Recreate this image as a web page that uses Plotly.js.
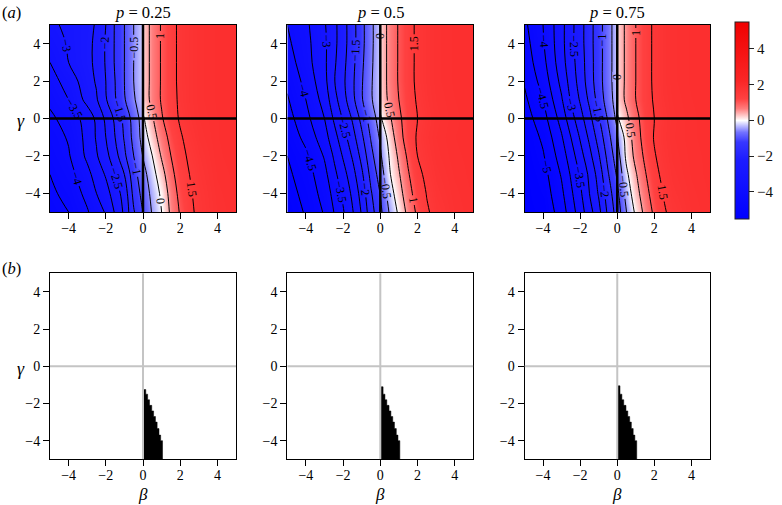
<!DOCTYPE html>
<html>
<head>
<meta charset="utf-8">
<script src="https://cdn.plot.ly/plotly-3.0.1.min.js"></script>
<style>
html,body{margin:0;padding:0;background:#fff;}
#chart{width:782px;height:505px;}
</style>
</head>
<body>
<div id="chart"></div>
<script>
// ---- data ----
const betaGrid  = [-5,-4,-3,-2.5,-2,-1.5,-1,-0.5,-0.02,0.02,0.5,1,1.5,2,2.5,3,4,5];
const gammaGrid = [-5,-4,-3,-2,-1,0,1,2,3,4,5];
const panelTitles = ['0.25','0.5','0.75'];
const axisTicks = [-4,-2,0,2,4];
const colorbarTicks = [-4,-2,0,2,4];

// p = 0.25, rows gamma = -5 ... 5
const zP25 = [
 [-4.7,-4.5,-4.05,-3.75,-3.45,-2.95,-2.4,-1.55,-1.02,-1.0,-0.45,0.0,0.6,1.05,1.4,1.6,1.78,1.85],
 [-4.6,-4.35,-3.85,-3.5,-3.2,-2.75,-2.3,-1.35,-0.85,-0.83,-0.35,0.1,0.7,1.15,1.45,1.62,1.8,1.86],
 [-4.5,-4.2,-3.65,-3.3,-2.95,-2.5,-2.0,-1.2,-0.7,-0.68,-0.2,0.3,0.85,1.25,1.5,1.66,1.82,1.87],
 [-4.35,-4.05,-3.4,-3.05,-2.65,-2.2,-1.6,-1.0,-0.5,-0.45,0.0,0.55,1.0,1.35,1.58,1.7,1.84,1.88],
 [-4.25,-3.95,-3.35,-2.95,-2.5,-2.0,-1.45,-0.85,-0.35,-0.25,0.25,0.75,1.15,1.45,1.65,1.75,1.85,1.88],
 [-4.1,-3.8,-3.3,-2.9,-2.4,-1.9,-1.35,-0.8,-0.3,-0.05,0.45,0.95,1.3,1.55,1.7,1.78,1.85,1.88],
 [-3.9,-3.5,-2.85,-2.55,-2.05,-1.55,-1.05,-0.55,-0.25,0.2,0.65,1.05,1.3,1.6,1.72,1.8,1.86,1.88],
 [-3.7,-3.3,-2.7,-2.45,-2.0,-1.5,-1.0,-0.5,-0.2,0.2,0.65,1.05,1.32,1.62,1.72,1.8,1.86,1.88],
 [-3.5,-3.0,-2.6,-2.42,-1.95,-1.45,-1.0,-0.5,-0.2,0.2,0.65,1.05,1.32,1.62,1.72,1.8,1.86,1.88],
 [-3.3,-2.95,-2.6,-2.42,-1.95,-1.45,-1.0,-0.5,-0.2,0.2,0.65,1.05,1.32,1.62,1.72,1.8,1.86,1.88],
 [-3.1,-2.9,-2.65,-2.45,-2.0,-1.45,-1.0,-0.5,-0.2,0.2,0.65,1.05,1.32,1.62,1.72,1.8,1.86,1.88]
];
// p = 0.5
const zP50 = [
 [-5.3,-4.95,-4.45,-4.0,-3.55,-3.05,-2.45,-1.7,-1.15,-1.1,-0.45,0.1,0.65,1.1,1.45,1.62,1.78,1.85],
 [-5.2,-4.85,-4.3,-3.85,-3.4,-2.9,-2.3,-1.55,-1.0,-0.95,-0.25,0.3,0.8,1.25,1.52,1.68,1.8,1.86],
 [-5.1,-4.75,-4.15,-3.65,-3.2,-2.7,-2.1,-1.35,-0.8,-0.75,-0.05,0.45,0.95,1.38,1.6,1.72,1.82,1.87],
 [-5.0,-4.6,-3.95,-3.45,-2.95,-2.45,-1.85,-1.15,-0.6,-0.55,0.05,0.6,1.1,1.5,1.66,1.76,1.84,1.87],
 [-4.85,-4.35,-3.7,-3.2,-2.7,-2.2,-1.6,-0.95,-0.45,-0.4,0.2,0.8,1.25,1.55,1.7,1.78,1.85,1.88],
 [-4.7,-4.15,-3.5,-2.95,-2.45,-1.95,-1.35,-0.75,-0.3,-0.05,0.42,0.9,1.25,1.5,1.66,1.76,1.84,1.88],
 [-4.55,-4.0,-3.3,-2.7,-2.2,-1.65,-1.05,-0.55,-0.22,0.2,0.6,1.0,1.3,1.55,1.7,1.78,1.85,1.88],
 [-4.4,-3.85,-3.15,-2.55,-2.1,-1.6,-1.05,-0.55,-0.2,0.2,0.65,1.05,1.32,1.6,1.72,1.8,1.86,1.88],
 [-4.25,-3.7,-3.1,-2.6,-2.15,-1.65,-1.1,-0.58,-0.2,0.2,0.65,1.05,1.32,1.6,1.72,1.8,1.86,1.88],
 [-4.1,-3.65,-3.1,-2.65,-2.2,-1.7,-1.15,-0.6,-0.2,0.2,0.65,1.05,1.32,1.6,1.72,1.8,1.86,1.88],
 [-4.0,-3.6,-3.05,-2.65,-2.2,-1.7,-1.15,-0.6,-0.2,0.2,0.65,1.05,1.32,1.6,1.72,1.8,1.86,1.88]
];
// p = 0.75
const zP75 = [
 [-5.5,-5.4,-4.75,-4.25,-3.75,-3.2,-2.65,-1.9,-1.3,-1.25,-0.5,0.1,0.65,1.1,1.45,1.62,1.78,1.85],
 [-5.5,-5.3,-4.6,-4.1,-3.6,-3.0,-2.45,-1.75,-1.15,-1.1,-0.3,0.3,0.8,1.25,1.52,1.68,1.8,1.86],
 [-5.5,-5.2,-4.45,-3.95,-3.45,-2.9,-2.3,-1.55,-0.95,-0.9,-0.1,0.45,0.95,1.38,1.6,1.72,1.82,1.87],
 [-5.45,-5.05,-4.25,-3.75,-3.2,-2.65,-2.05,-1.35,-0.75,-0.7,0.12,0.65,1.1,1.47,1.65,1.75,1.83,1.87],
 [-5.4,-4.9,-4.05,-3.5,-2.95,-2.4,-1.8,-1.15,-0.6,-0.5,0.2,0.75,1.22,1.53,1.68,1.77,1.84,1.88],
 [-5.25,-4.7,-3.8,-3.2,-2.7,-2.15,-1.55,-0.95,-0.4,-0.05,0.4,0.85,1.25,1.5,1.66,1.76,1.84,1.88],
 [-5.1,-4.5,-3.55,-2.95,-2.45,-1.9,-1.3,-0.75,-0.28,0.2,0.6,1.0,1.3,1.55,1.7,1.78,1.85,1.88],
 [-4.95,-4.3,-3.35,-2.8,-2.3,-1.75,-1.2,-0.7,-0.25,0.2,0.6,1.0,1.3,1.58,1.72,1.8,1.86,1.88],
 [-4.8,-4.15,-3.2,-2.7,-2.25,-1.72,-1.2,-0.7,-0.25,0.2,0.6,1.0,1.3,1.58,1.72,1.8,1.86,1.88],
 [-4.7,-4.05,-3.15,-2.65,-2.2,-1.7,-1.2,-0.7,-0.25,0.2,0.6,1.0,1.3,1.58,1.72,1.8,1.86,1.88],
 [-4.6,-4.0,-3.15,-2.65,-2.2,-1.7,-1.2,-0.7,-0.25,0.2,0.6,1.0,1.3,1.58,1.72,1.8,1.86,1.88]
];

// bottom row: black region (staircase boundary)
const regionGamma = [-1.25,-1.5,-1.8,-2.1,-2.4,-2.7,-3.0,-3.35,-3.7,-4.0,-5.0];
const regionBeta  = [0.15,0.25,0.35,0.47,0.57,0.67,0.76,0.86,0.95,1.05];
const regionTop   = [-1.25,-1.1,-1.05];

// ---- drawing ----
const FONT = '"Liberation Serif", "Times New Roman", serif';
const W = 782, H = 505;
const xDom = [[50/W,236/W],[287.3/W,473.3/W],[524.5/W,710/W]];
const yTop = [1-212/H, 1-25/H];
const yBot = [1-459.3/H, 1-273.3/H];

const colorscale = [
 [0,'rgb(0,0,255)'],[0.3,'rgb(28,28,255)'],[0.39,'rgb(55,55,255)'],[0.44,'rgb(115,115,255)'],
 [0.475,'rgb(195,195,255)'],[0.5,'rgb(255,255,255)'],[0.525,'rgb(255,200,200)'],
 [0.56,'rgb(255,125,125)'],[0.61,'rgb(255,65,65)'],[0.7,'rgb(250,38,38)'],[1,'rgb(240,0,0)']
];

const zs = [zP25, zP50, zP75];
const traces = [];
zs.forEach((z, i) => {
  const xa = 'x' + (i === 0 ? '' : (i+1));
  const ya = 'y' + (i === 0 ? '' : (i+1));
  traces.push({
    type:'heatmap', x:betaGrid, y:gammaGrid, z:z, xaxis:xa, yaxis:ya,
    zsmooth:'best', zmin:-5.5, zmax:5.5, zauto:false, colorscale:colorscale,
    showscale: i === 0, hoverinfo:'skip',
    colorbar: i === 0 ? {
      x:734.5/W, xanchor:'left', y:1-21.7/H, yanchor:'top',
      len:197.3/H, lenmode:'fraction', thickness:14, thicknessmode:'pixels',
      outlinewidth:1, outlinecolor:'#222', xpad:0, ypad:0,
      tickvals:colorbarTicks, ticks:'outside', ticklen:5, tickcolor:'#222',
      tickfont:{family:FONT,size:15,color:'#111'}
    } : undefined
  });
  traces.push({
    type:'contour', x:betaGrid, y:gammaGrid, z:z, xaxis:xa, yaxis:ya,
    autocontour:false, showscale:false, hoverinfo:'skip',
    contours:{start:-5, end:1.5, size:0.5, coloring:'none', showlabels:true,
      labelfont:{family:FONT,size:12,color:'black'}, labelformat:'.1~f'},
    line:{color:'black', width:1, smoothing:1}
  });
});

// bottom row black regions
for (let i = 0; i < 3; i++) {
  const g = regionGamma.slice(); g[0] = regionTop[i];
  const px = [0], py = [g[0]];
  for (let k = 0; k < regionBeta.length; k++) {
    px.push(regionBeta[k]); py.push(g[k]);
    px.push(regionBeta[k]); py.push(g[k+1]);
  }
  px.push(0); py.push(g[g.length-1]);
  traces.push({
    type:'scatter', mode:'lines', x:px, y:py, fill:'toself', fillcolor:'black',
    line:{color:'black', width:0.5}, hoverinfo:'skip', showlegend:false,
    xaxis:'x'+(i+4), yaxis:'y'+(i+4)
  });
}

function axis(domain, anchor, isX) {
  return {domain:domain, anchor:anchor, range:[-5,5], tickvals:axisTicks,
    ticks:'outside', ticklen:6, tickwidth:1, tickcolor:'black',
    ticklabelstandoff: isX ? -3 : 0,
    showline:true, mirror:true, linecolor:'black', linewidth:1,
    showgrid:false, zeroline:false, fixedrange:true,
    tickfont:{family:FONT,size:14,color:'black'}};
}

const layout = {
  width:W, height:H, margin:{l:0,r:0,t:0,b:0},
  paper_bgcolor:'white', plot_bgcolor:'white', showlegend:false,
  font:{family:FONT, color:'black'},
  shapes:[], annotations:[]
};
for (let i = 0; i < 6; i++) {
  const n = i + 1;
  const col = i % 3;
  const top = i < 3;
  const xk = 'xaxis' + (n === 1 ? '' : n);
  const yk = 'yaxis' + (n === 1 ? '' : n);
  const xr = 'x' + (n === 1 ? '' : n);
  const yr = 'y' + (n === 1 ? '' : n);
  layout[xk] = axis(xDom[col], yr, true);
  layout[yk] = axis(top ? yTop : yBot, xr, false);
  const lc = top ? 'black' : '#c4c4c4';
  const lw = top ? 2.5 : 2;
  layout.shapes.push({type:'line', xref:xr, yref:yr, x0:0, x1:0, y0:-5, y1:5, line:{color:lc,width:lw}, layer:'above'});
  layout.shapes.push({type:'line', xref:xr, yref:yr, x0:-5, x1:5, y0:0, y1:0, line:{color:lc,width:lw}, layer:'above'});
}

const ann = (text, x, y, size, extra) => Object.assign({text:text, x:x, y:y, xref:'paper', yref:'paper',
  showarrow:false, xanchor:'center', yanchor:'middle', font:{family:FONT,size:size,color:'black'}}, extra||{});

panelTitles.forEach((t, i) => {
  const cx = (xDom[i][0] + xDom[i][1]) / 2;
  layout.annotations.push(ann('<i>p</i> = ' + t, cx, 1-12.5/H, 16.5));
  layout.annotations.push(ann('<i>β</i>', cx, 1-494/H, 17));
});
layout.annotations.push(ann('(<i>a</i>)', 11/W, 1-12.5/H, 16.5));
layout.annotations.push(ann('(<i>b</i>)', 11/W, 1-268/H, 16.5));
layout.annotations.push(ann('<i>γ</i>', 21/W, 1-121/H, 18));
layout.annotations.push(ann('<i>γ</i>', 21/W, 1-369/H, 18));

Plotly.newPlot('chart', traces, layout, {staticPlot:true, displayModeBar:false});
</script>
</body>
</html>
